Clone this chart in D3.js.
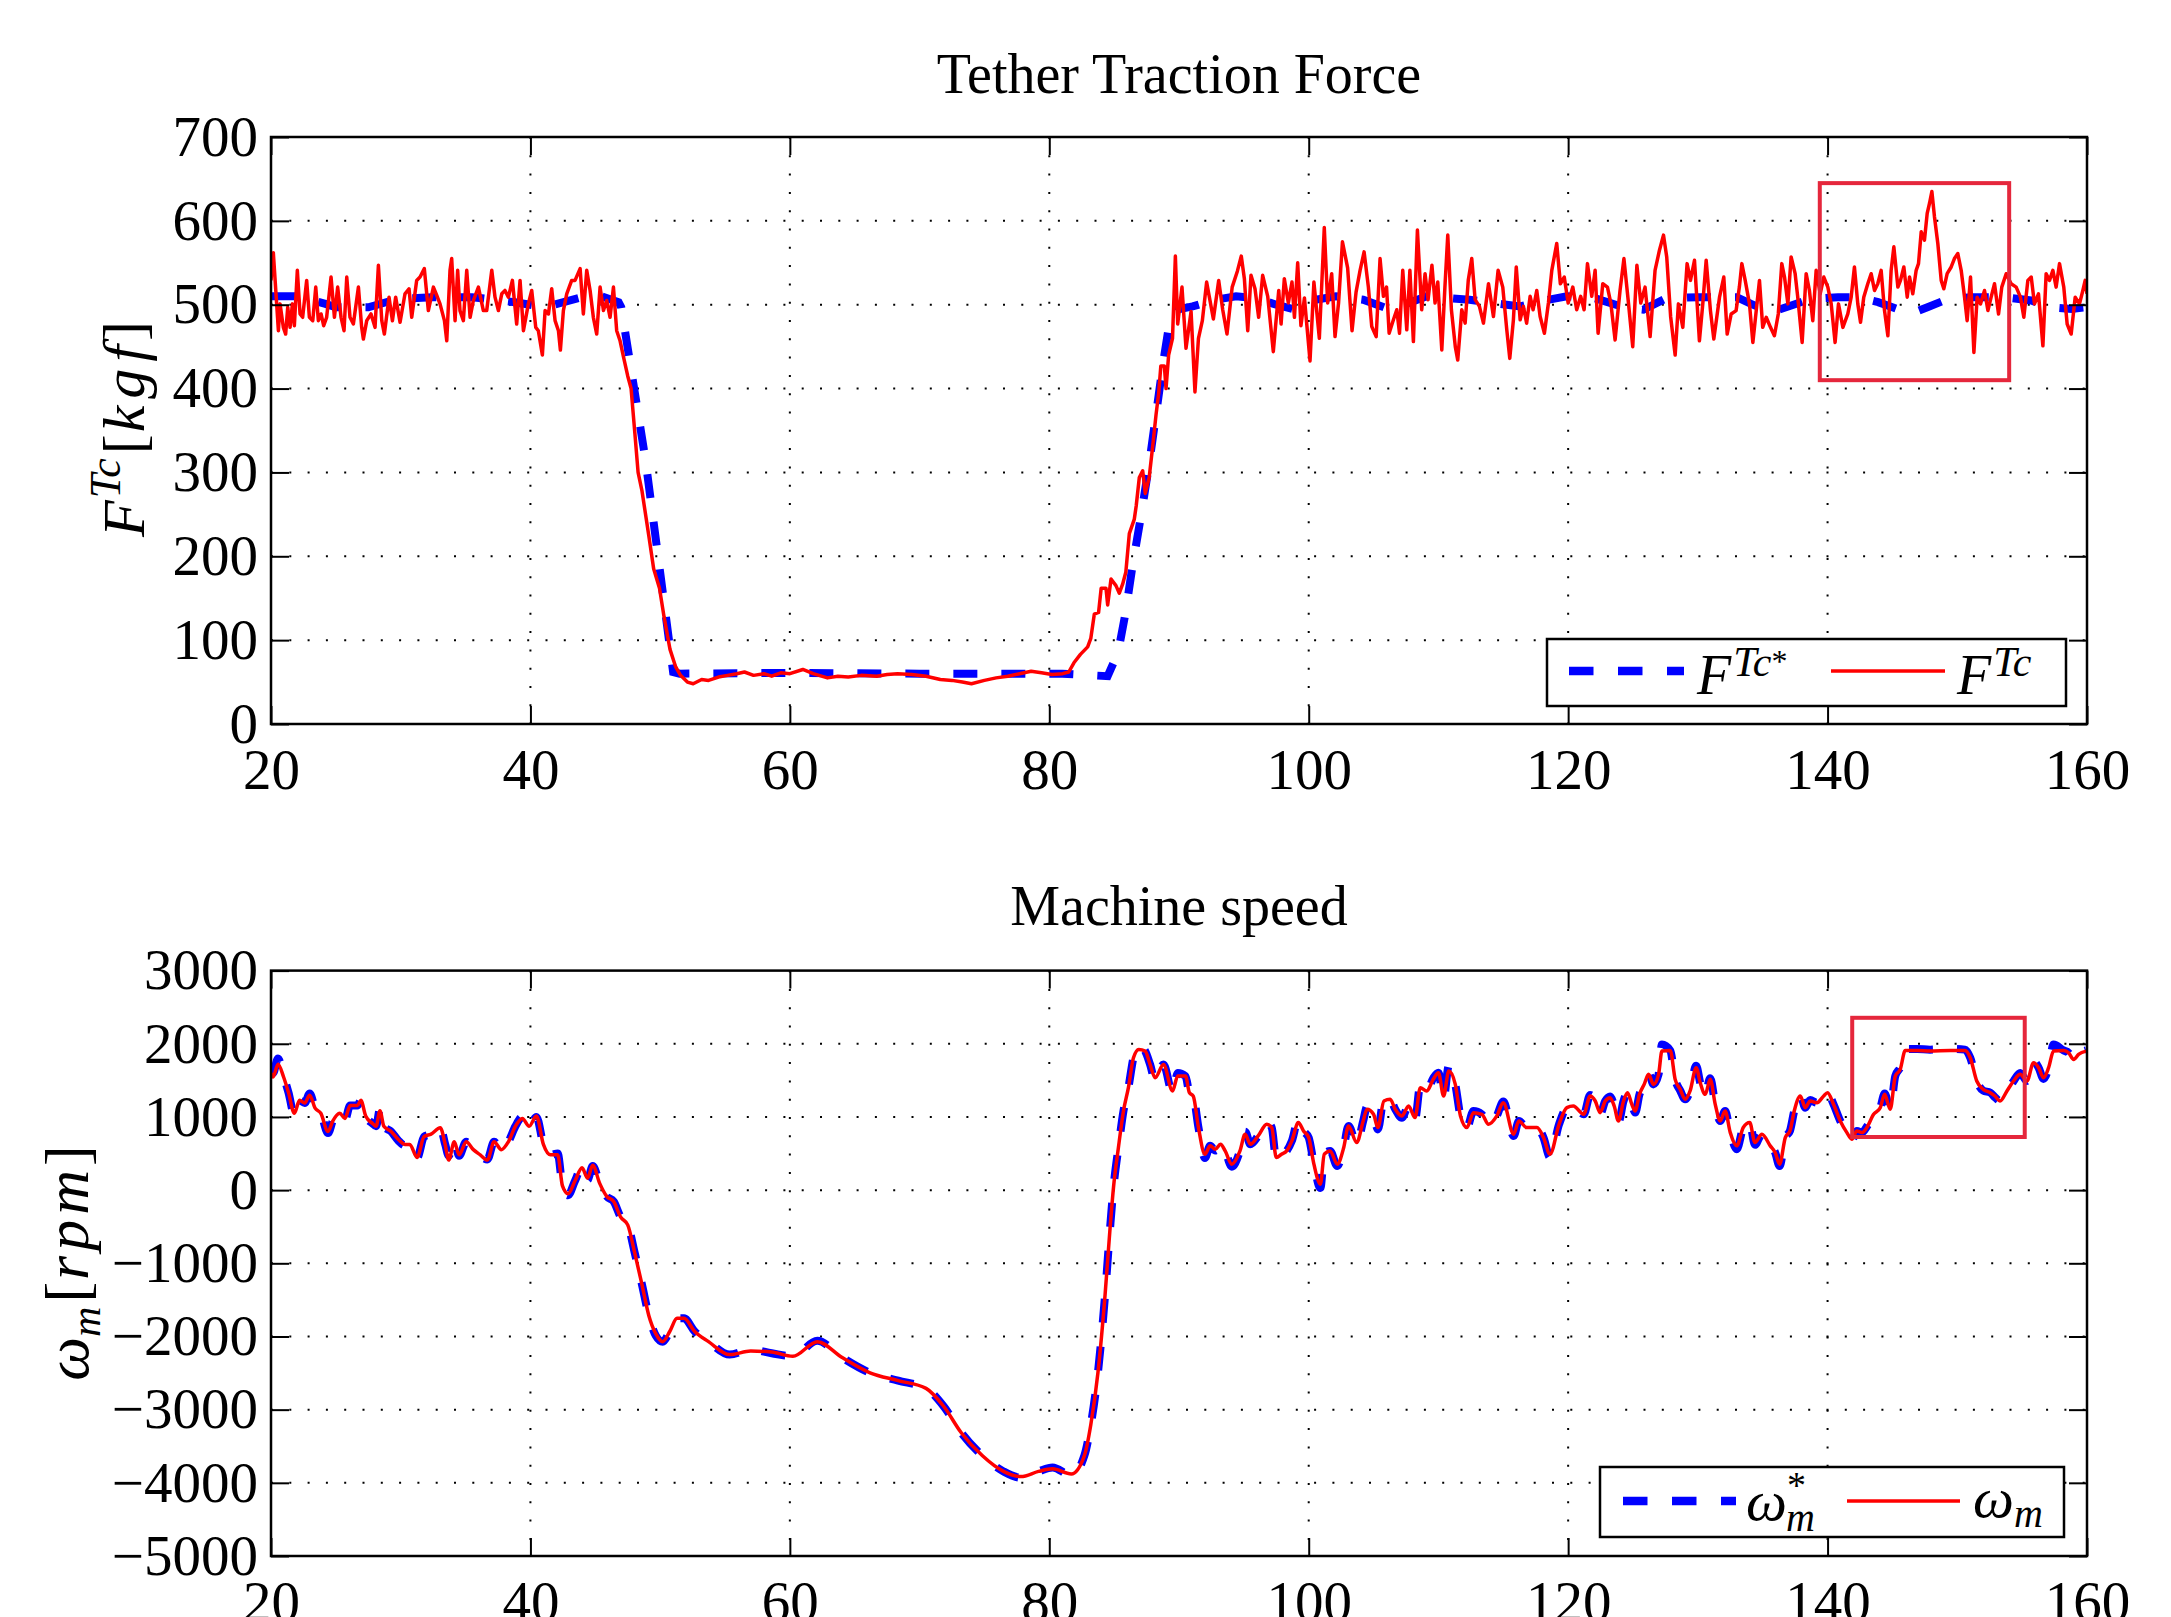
<!DOCTYPE html>
<html>
<head>
<meta charset="utf-8">
<script src="https://cdn.jsdelivr.net/npm/d3@7"></script>
<style>
  body { margin: 0; background: #fff; }
  text { font-family: "Liberation Serif", "Times New Roman", serif; }
</style>
</head>
<body>
<script>
// ---- data ----
const timeTicks = [20, 40, 60, 80, 100, 120, 140, 160];
const forceTicks = [0, 100, 200, 300, 400, 500, 600, 700];
const speedTicks = [-5000, -4000, -3000, -2000, -1000, 0, 1000, 2000, 3000];

// reference tether force F^Tc* [kgf]  (t, value)
const forceRef = [
  [20, 510], [22, 510], [24.2, 501], [25, 497], [27.5, 497], [29.8, 507], [32.4, 509], [35.5, 509],
  [38.8, 503], [41.1, 497], [44, 509], [45.5, 510], [46.8, 503], [47.0, 497], [48.87, 315], [51.0, 62],
  [51.5, 60], [60, 61], [70, 60], [81, 60], [84.5, 57], [85.3, 85], [85.86, 131], [86.43, 190],
  [87.07, 248], [87.66, 306], [88.23, 369], [88.74, 427], [89.25, 477], [89.77, 494], [91.05, 498],
  [92.85, 506], [94.4, 510], [95.9, 508], [97.5, 500], [99, 494], [100.6, 506], [102.1, 510],
  [104.2, 506], [106.3, 494], [109.1, 510], [112.4, 506], [114.2, 502], [116.3, 498], [117.8, 504],
  [119.9, 510], [122, 508], [124.5, 496], [125.8, 494], [127.6, 508], [130, 509], [133, 509],
  [134.1, 501], [135.65, 491], [137.2, 499], [138.7, 507], [140.8, 509], [142.3, 509], [143.9, 503],
  [145.7, 493], [146.7, 491], [147.7, 497], [149.3, 507], [151.1, 509], [153.6, 509], [155.7, 505],
  [157.2, 497], [158.8, 495], [160, 497]
];

// measured tether force F^Tc [kgf]
const forceMeas = [
  [20.0, 529], [20.18, 562], [20.57, 469], [20.7, 501], [20.95, 473], [21.13, 465], [21.29, 497], [21.47, 473],
  [21.65, 501], [21.8, 475], [22.03, 541], [22.24, 489], [22.44, 485], [22.75, 529], [22.96, 485], [23.22, 481],
  [23.45, 521], [23.65, 481], [23.86, 489], [24.06, 475], [24.29, 485], [24.63, 533], [24.89, 485], [25.14, 521],
  [25.4, 485], [25.63, 469], [25.84, 533], [26.09, 485], [26.35, 477], [26.74, 521], [26.99, 473], [27.12, 459],
  [27.38, 481], [27.71, 489], [28.02, 473], [28.28, 547], [28.54, 481], [28.74, 465], [29.1, 509], [29.36, 481],
  [29.61, 509], [29.95, 479], [30.33, 513], [30.64, 519], [30.85, 485], [31.23, 529], [31.49, 533], [31.82, 543],
  [32.13, 493], [32.52, 521], [32.78, 511], [33.03, 501], [33.37, 481], [33.55, 457], [33.8, 541], [33.93, 555],
  [34.19, 481], [34.39, 541], [34.57, 493], [34.83, 481], [35.09, 541], [35.35, 485], [35.6, 505], [35.99, 521],
  [36.37, 493], [36.63, 493], [37.02, 541], [37.27, 509], [37.53, 493], [37.79, 513], [38.04, 517], [38.3, 509],
  [38.61, 529], [38.94, 477], [39.2, 529], [39.46, 469], [39.84, 501], [40.1, 517], [40.41, 473], [40.61, 469],
  [40.92, 440], [41.13, 493], [41.39, 489], [41.64, 519], [41.9, 481], [42.16, 469], [42.31, 446], [42.54, 493],
  [42.8, 513], [43.18, 529], [43.44, 529], [43.83, 543], [44.08, 489], [44.34, 541], [44.6, 517], [44.85, 485],
  [45.11, 465], [45.37, 521], [45.63, 493], [45.88, 505], [46.14, 485], [46.4, 521], [46.65, 469], [46.91, 457],
  [47.17, 438], [47.5, 415], [47.76, 400], [48.06, 345], [48.3, 300], [48.6, 278], [49.14, 223], [49.5, 185],
  [49.95, 162], [50.3, 128], [50.76, 89], [51.2, 68], [51.57, 58], [52.1, 50], [52.55, 48], [53.2, 53],
  [53.73, 52], [54.5, 56], [55.2, 58], [55.9, 60], [56.5, 62], [57.2, 58], [58.0, 60], [58.6, 57],
  [59.3, 61], [60.0, 60], [61.0, 65], [61.8, 60], [62.9, 55], [63.7, 57], [64.5, 56], [65.5, 58],
  [66.7, 57], [67.5, 59], [68.3, 60], [69.4, 59], [70.5, 57], [71.6, 53], [72.5, 52], [73.3, 50],
  [74.0, 48], [75.0, 52], [75.9, 55], [76.8, 57], [77.7, 60], [78.6, 63], [79.4, 61], [80.2, 59],
  [81.03, 60], [81.5, 62], [81.9, 73], [82.4, 83], [82.96, 92], [83.2, 102], [83.47, 131], [83.8, 133],
  [84.0, 162], [84.37, 162], [84.5, 142], [84.76, 173], [85.14, 165], [85.4, 156], [85.66, 167], [85.9, 181],
  [86.17, 227], [86.55, 244], [86.7, 260], [86.94, 294], [87.2, 302], [87.4, 275], [87.7, 294], [87.97, 331],
  [88.23, 369], [88.43, 394], [88.6, 427], [88.87, 427], [89.0, 400], [89.2, 440], [89.5, 460], [89.72, 558],
  [89.9, 477], [90.23, 521], [90.54, 448], [90.93, 492], [91.23, 396], [91.5, 460], [91.8, 481], [92.13, 527],
  [92.65, 483], [93.06, 529], [93.37, 494], [93.7, 465], [94.1, 521], [94.5, 540], [94.8, 558], [95.04, 531],
  [95.3, 469], [95.55, 535], [95.86, 519], [96.14, 485], [96.45, 535], [96.84, 510], [97.27, 444], [97.69, 517],
  [97.87, 477], [98.12, 531], [98.43, 502], [98.71, 527], [98.9, 485], [99.15, 550], [99.4, 475], [99.67, 508],
  [100.1, 433], [100.4, 527], [100.82, 460], [101.2, 592], [101.46, 502], [101.77, 537], [102.03, 462], [102.3, 502],
  [102.6, 575], [103.0, 544], [103.34, 469], [103.65, 515], [103.96, 541], [104.27, 563], [104.6, 521], [104.86, 474],
  [105.2, 462], [105.5, 555], [105.76, 510], [106.0, 521], [106.2, 466], [106.53, 482], [106.79, 494], [107.0, 466],
  [107.25, 541], [107.56, 470], [107.8, 541], [108.07, 456], [108.38, 589], [108.71, 494], [108.97, 537], [109.2, 506],
  [109.5, 547], [109.74, 502], [109.95, 527], [110.26, 446], [110.5, 521], [110.72, 583], [111.0, 494], [111.3, 450],
  [111.49, 434], [111.8, 494], [112.06, 478], [112.3, 529], [112.57, 555], [112.83, 506], [113.16, 498], [113.47, 478],
  [113.86, 525], [114.24, 486], [114.6, 541], [114.96, 521], [115.27, 470], [115.5, 436], [115.78, 482], [116.0, 545],
  [116.3, 482], [116.55, 498], [116.8, 478], [117.07, 510], [117.3, 494], [117.58, 517], [117.84, 486], [118.17, 466],
  [118.48, 502], [118.74, 541], [119.12, 573], [119.4, 525], [119.7, 533], [120.0, 502], [120.36, 521], [120.66, 494],
  [120.97, 510], [121.23, 494], [121.49, 549], [121.82, 510], [122.08, 541], [122.31, 466], [122.67, 525], [123.03, 521],
  [123.29, 502], [123.62, 458], [124.0, 517], [124.3, 555], [124.65, 502], [124.98, 450], [125.3, 547], [125.6, 502],
  [125.93, 521], [126.32, 462], [126.7, 541], [127.04, 565], [127.35, 583], [127.6, 557], [127.9, 486], [128.25, 440],
  [128.5, 501], [128.84, 473], [129.17, 549], [129.43, 529], [129.74, 553], [130.12, 457], [130.38, 501], [130.64, 553],
  [130.97, 493], [131.23, 459], [131.67, 509], [132.0, 533], [132.26, 465], [132.57, 489], [132.95, 493], [133.2, 521],
  [133.39, 549], [133.65, 529], [133.98, 501], [134.24, 455], [134.5, 493], [134.75, 529], [135.0, 473], [135.27, 485],
  [135.6, 473], [135.9, 463], [136.2, 489], [136.47, 549], [136.68, 533], [136.94, 501], [137.19, 557], [137.5, 537],
  [137.7, 509], [138.04, 455], [138.35, 537], [138.6, 517], [138.86, 481], [139.12, 541], [139.43, 513], [139.71, 533],
  [140.02, 521], [140.28, 501], [140.58, 455], [140.84, 501], [141.18, 473], [141.56, 489], [141.82, 509], [142.07, 545],
  [142.33, 501], [142.54, 479], [142.79, 509], [143.1, 525], [143.36, 537], [143.62, 517], [143.87, 525], [144.13, 541],
  [144.39, 493], [144.65, 463], [144.9, 541], [145.11, 569], [145.42, 521], [145.62, 529], [145.88, 545], [146.14, 509],
  [146.32, 533], [146.57, 513], [146.83, 541], [147.01, 549], [147.22, 587], [147.47, 577], [147.68, 609], [147.86, 621],
  [148.04, 635], [148.24, 605], [148.5, 573], [148.76, 529], [148.96, 519], [149.22, 537], [149.53, 545], [149.78, 555],
  [150.04, 561], [150.3, 541], [150.56, 509], [150.76, 481], [151.02, 533], [151.28, 443], [151.53, 509], [151.79, 501],
  [152.1, 517], [152.36, 493], [152.61, 509], [152.87, 525], [153.18, 489], [153.43, 521], [153.77, 537], [154.15, 525],
  [154.54, 521], [154.87, 509], [155.13, 485], [155.44, 529], [155.7, 533], [155.95, 501], [156.26, 513], [156.6, 451],
  [156.85, 537], [157.11, 529], [157.37, 541], [157.62, 521], [157.88, 549], [158.21, 521], [158.47, 477], [158.78, 465],
  [159.09, 509], [159.42, 501], [159.68, 517], [159.86, 529], [160.0, 513]
];

// measured machine speed w_m [rpm]
const speedMeas = [
  [20.0, 1600], [20.16, 1546], [20.54, 1720], [20.97, 1546], [21.35, 1333], [21.8, 1050], [22.2, 1227], [22.6, 1191],
  [22.98, 1298], [23.4, 1120], [23.84, 1050], [24.4, 801], [24.76, 943], [25.3, 1050], [25.7, 979], [26.1, 1156],
  [26.66, 1156], [26.93, 1227], [27.3, 1014], [27.85, 908], [28.1, 872], [28.4, 1085], [28.7, 872], [29.26, 801],
  [29.8, 695], [30.34, 624], [30.7, 624], [31.26, 447], [31.8, 730], [32.34, 766], [33.05, 851], [33.43, 624],
  [33.7, 411], [34.13, 660], [34.5, 482], [35.05, 660], [35.6, 553], [36.13, 482], [36.68, 411], [37.2, 660],
  [37.76, 553], [38.3, 660], [38.84, 872], [39.38, 979], [39.9, 872], [40.46, 1014], [41.0, 624], [41.55, 482],
  [42.1, 482], [42.47, 57], [42.9, -50], [43.44, 128], [43.98, 305], [44.4, 163], [44.8, 340], [45.34, 92],
  [45.88, -85], [46.42, -156], [46.96, -369], [47.5, -475], [48.05, -865], [48.6, -1291], [49.13, -1716], [49.67, -1964],
  [50.2, -2071], [50.75, -1929], [51.3, -1752], [51.84, -1752], [52.65, -1929], [53.73, -2071], [55.36, -2248], [56.98, -2199],
  [58.6, -2213], [60.23, -2270], [62.12, -2071], [64.0, -2284], [66.18, -2496], [68.35, -2603], [70.5, -2709], [71.87, -2957],
  [73.2, -3312], [74.85, -3631], [76.47, -3844], [77.82, -3915], [79.17, -3844], [80.25, -3809], [81.7, -3879], [82.7, -3631],
  [83.2, -3206], [83.75, -2496], [84.3, -1433], [84.69, -509], [84.95, 36], [85.33, 582], [85.72, 1082], [86.1, 1400],
  [86.49, 1809], [86.9, 1923], [87.39, 1900], [87.77, 1718], [88.16, 1536], [88.8, 1718], [89.5, 1355], [89.9, 1559],
  [90.5, 1559], [90.8, 1332], [91.1, 1286], [91.5, 855], [92.0, 491], [92.4, 605], [92.8, 559], [93.2, 627],
  [93.56, 536], [94.07, 355], [94.7, 536], [95.1, 764], [95.5, 627], [96.1, 741], [96.77, 900], [97.15, 855],
  [97.5, 445], [97.9, 491], [98.3, 536], [98.7, 673], [99.2, 923], [99.6, 809], [100.0, 718], [100.4, 355],
  [100.9, 82], [101.2, 491], [101.65, 536], [102.2, 355], [102.7, 582], [103.07, 877], [103.7, 650], [104.2, 945],
  [104.5, 1105], [105.0, 1036], [105.33, 855], [105.8, 1218], [106.28, 1241], [106.67, 1105], [107.18, 1014], [107.7, 1150],
  [108.2, 991], [108.6, 1400], [109.1, 1355], [109.6, 1514], [110.0, 1605], [110.4, 1286], [110.8, 1627], [111.3, 1445],
  [111.7, 1014], [112.2, 855], [112.7, 1059], [113.35, 1036], [113.86, 900], [114.5, 1014], [115.0, 1195], [115.8, 764],
  [116.2, 945], [116.8, 855], [117.6, 855], [118.1, 718], [118.6, 491], [119.3, 900], [119.9, 1127], [120.4, 1150],
  [121.2, 1036], [121.7, 1286], [122.09, 1218], [122.47, 1059], [122.86, 1218], [123.24, 1264], [123.55, 1150], [123.88, 945],
  [124.27, 1218], [124.58, 1332], [124.91, 1173], [125.17, 1082], [125.5, 1309], [125.86, 1445], [126.2, 1582], [126.58, 1445],
  [126.97, 1582], [127.23, 1900], [127.87, 1909], [128.25, 1514], [128.64, 1377], [129.02, 1241], [129.4, 1355], [129.87, 1673],
  [130.18, 1468], [130.57, 1309], [130.95, 1514], [131.34, 1173], [131.72, 945], [132.1, 1082], [132.5, 786], [133.0, 605],
  [133.5, 855], [134.0, 923], [134.4, 650], [134.94, 764], [135.58, 605], [135.96, 514], [136.3, 355], [136.74, 718],
  [137.1, 809], [137.43, 1082], [137.9, 1286], [138.28, 1127], [138.66, 1218], [139.18, 1195], [139.7, 1286], [140.0, 1332],
  [140.46, 1173], [140.98, 945], [141.49, 786], [141.87, 695], [142.26, 809], [142.65, 786], [143.03, 855], [143.55, 1036],
  [144.06, 1127], [144.4, 1309], [144.83, 1105], [145.22, 1559], [145.6, 1650], [145.99, 1909], [146.9, 1909], [147.9, 1900],
  [149.46, 1909], [150.6, 1909], [151.0, 1809], [151.5, 1491], [152.0, 1377], [152.54, 1332], [152.9, 1286], [153.3, 1218],
  [153.83, 1355], [154.34, 1491], [154.85, 1582], [155.37, 1491], [155.88, 1741], [156.27, 1673], [156.65, 1536], [157.04, 1673],
  [157.42, 1900], [158.2, 1909], [158.58, 1877], [158.97, 1786], [159.35, 1855], [159.94, 1900]
];

// reference machine speed w_m* [rpm] (sits under the measured trace, a bit deeper at the peaks)
const speedRef = [
  [20.0, 1650], [20.16, 1600], [20.54, 1800], [20.97, 1560], [21.35, 1333], [21.8, 1030], [22.2, 1227], [22.6, 1191],
  [22.98, 1320], [23.4, 1120], [23.84, 1050], [24.4, 780], [24.76, 943], [25.3, 1050], [25.7, 960], [26.1, 1156],
  [26.66, 1156], [26.93, 1227], [27.3, 1014], [27.85, 908], [28.1, 872], [28.4, 1110], [28.7, 872], [29.26, 801],
  [29.8, 680], [30.34, 610], [30.7, 624], [31.26, 440], [31.8, 730], [32.34, 766], [33.05, 860], [33.43, 624],
  [33.7, 470], [34.13, 680], [34.5, 470], [35.05, 660], [35.6, 553], [36.13, 470], [36.68, 420], [37.2, 660],
  [37.76, 540], [38.3, 660], [38.84, 872], [39.38, 1000], [39.9, 860], [40.46, 1000], [41.0, 624], [41.55, 482],
  [42.1, 500], [42.47, 57], [42.9, -70], [43.44, 128], [43.98, 320], [44.4, 140], [44.8, 330], [45.34, 92],
  [45.88, -85], [46.42, -156], [46.96, -369], [47.5, -475], [48.05, -865], [48.6, -1291], [49.13, -1716], [49.67, -1990],
  [50.2, -2071], [50.75, -1929], [51.3, -1752], [51.84, -1752], [52.65, -1929], [53.73, -2071], [55.36, -2248], [56.98, -2180],
  [58.6, -2230], [60.23, -2270], [62.12, -2060], [64.0, -2284], [66.18, -2496], [68.35, -2603], [70.5, -2709], [71.87, -2957],
  [73.2, -3312], [74.85, -3631], [76.47, -3844], [77.82, -3930], [79.17, -3844], [80.25, -3790], [81.7, -3900], [82.7, -3631],
  [83.2, -3206], [83.75, -2496], [84.3, -1433], [84.69, -509], [84.95, 36], [85.33, 582], [85.72, 1082], [86.1, 1400],
  [86.49, 1809], [86.9, 1970], [87.39, 1900], [87.77, 1718], [88.16, 1500], [88.8, 1718], [89.5, 1330], [89.9, 1600],
  [90.5, 1559], [90.8, 1332], [91.1, 1286], [91.5, 855], [92.0, 440], [92.4, 605], [92.8, 540], [93.2, 627],
  [93.56, 536], [94.07, 320], [94.7, 536], [95.1, 800], [95.5, 627], [96.1, 741], [96.77, 930], [97.15, 855],
  [97.5, 420], [97.9, 491], [98.3, 536], [98.7, 673], [99.2, 960], [99.6, 809], [100.0, 718], [100.4, 355],
  [100.9, 30], [101.2, 491], [101.65, 536], [102.2, 330], [102.7, 582], [103.07, 877], [103.7, 630], [104.2, 945],
  [104.5, 1140], [105.0, 1036], [105.33, 830], [105.8, 1250], [106.28, 1241], [106.67, 1105], [107.18, 990], [107.7, 1150],
  [108.2, 970], [108.6, 1430], [109.1, 1355], [109.6, 1530], [110.0, 1605], [110.4, 1250], [110.8, 1700], [111.3, 1445],
  [111.7, 1014], [112.2, 855], [112.7, 1080], [113.35, 1036], [113.86, 900], [114.5, 1014], [115.0, 1210], [115.8, 740],
  [116.2, 945], [116.8, 855], [117.6, 855], [118.1, 718], [118.6, 450], [119.3, 900], [119.9, 1127], [120.4, 1150],
  [121.2, 1036], [121.7, 1300], [122.09, 1218], [122.47, 1040], [122.86, 1218], [123.24, 1280], [123.55, 1150], [123.88, 930],
  [124.27, 1218], [124.58, 1340], [124.91, 1173], [125.17, 1060], [125.5, 1309], [125.86, 1445], [126.2, 1600], [126.58, 1445],
  [126.97, 1582], [127.23, 1990], [127.87, 1909], [128.25, 1514], [128.64, 1360], [129.02, 1241], [129.4, 1355], [129.87, 1700],
  [130.18, 1468], [130.57, 1300], [130.95, 1530], [131.34, 1173], [131.72, 945], [132.1, 1082], [132.5, 786], [133.0, 560],
  [133.5, 855], [134.0, 923], [134.4, 620], [134.94, 764], [135.58, 605], [135.96, 514], [136.3, 330], [136.74, 718],
  [137.1, 809], [137.43, 1082], [137.9, 1300], [138.28, 1127], [138.66, 1230], [139.18, 1195], [139.7, 1286], [140.0, 1332],
  [140.46, 1173], [140.98, 945], [141.49, 786], [141.87, 680], [142.26, 809], [142.65, 786], [143.03, 870], [143.55, 1036],
  [144.06, 1127], [144.4, 1320], [144.83, 1105], [145.22, 1559], [145.6, 1680], [145.99, 1930], [146.9, 1930], [147.9, 1920],
  [149.46, 1930], [150.6, 1920], [151.0, 1809], [151.5, 1491], [152.0, 1360], [152.54, 1332], [152.9, 1270], [153.3, 1218],
  [153.83, 1355], [154.34, 1491], [154.85, 1600], [155.37, 1491], [155.88, 1760], [156.27, 1673], [156.65, 1520], [157.04, 1673],
  [157.42, 1990], [158.2, 1909], [158.58, 1877], [158.97, 1770], [159.35, 1855], [159.94, 1910]
];

// highlight windows [t0, t1, v0, v1]
const forceZoomBox = [139.4, 154.0, 410, 645];
const speedZoomBox = [141.9, 155.2, 726, 2355];

// ---- drawing ----
const W = 2171, H = 1617;
const left = 271, right = 2087;
const FONT = 57;

const svg = d3.select("body").append("svg")
    .attr("width", W)
    .attr("height", H)
    .style("background", "#fff");

const x = d3.scaleLinear().domain([20, 160]).range([left, right]);

function panel(id, top, bottom, yDomain, yTicks, refData, measData, box, curve) {
    let y = d3.scaleLinear().domain(yDomain).range([bottom, top]);
    let g = svg.append("g");

    g.append("clipPath").attr("id", "clip" + id)
        .append("rect")
        .attr("x", left).attr("y", top)
        .attr("width", right - left).attr("height", bottom - top);

    // dotted grid
    g.selectAll(".vgrid")
        .data(timeTicks.slice(1, -1))
        .enter().append("line")
        .attr("x1", d => x(d)).attr("x2", d => x(d))
        .attr("y1", top).attr("y2", bottom)
        .attr("stroke", "#000").attr("stroke-width", 2)
        .attr("stroke-dasharray", "2 16.3");
    g.selectAll(".hgrid")
        .data(yTicks.slice(1, -1))
        .enter().append("line")
        .attr("x1", left).attr("x2", right)
        .attr("y1", d => y(d)).attr("y2", d => y(d))
        .attr("stroke", "#000").attr("stroke-width", 2)
        .attr("stroke-dasharray", "2 16.3");

    let line = d3.line().x(d => x(d[0])).y(d => y(d[1])).curve(curve);

    let plot = g.append("g").attr("clip-path", "url(#clip" + id + ")");
    plot.append("path")
        .datum(refData)
        .attr("d", line)
        .attr("fill", "none")
        .attr("stroke", "#0000ff")
        .attr("stroke-width", 8)
        .attr("stroke-dasharray", "24 24");
    plot.append("path")
        .datum(measData)
        .attr("d", line)
        .attr("fill", "none")
        .attr("stroke", "#ff0000")
        .attr("stroke-width", 3.5)
        .attr("stroke-linejoin", "round");

    // axes, ticks pointing inwards on all four sides
    let bottomAxis = g.append("g")
        .attr("transform", "translate(0," + bottom + ")")
        .call(d3.axisBottom(x).tickValues(timeTicks).tickSize(-18).tickSizeOuter(0).tickPadding(25));
    let leftAxis = g.append("g")
        .attr("transform", "translate(" + left + ",0)")
        .call(d3.axisLeft(y).tickValues(yTicks).tickSize(-18).tickSizeOuter(0).tickPadding(13)
            .tickFormat(d3.format("d")));
    g.append("g")
        .attr("transform", "translate(0," + top + ")")
        .call(d3.axisTop(x).tickValues(timeTicks).tickSize(-18).tickSizeOuter(0).tickFormat(""));
    g.append("g")
        .attr("transform", "translate(" + right + ",0)")
        .call(d3.axisRight(y).tickValues(yTicks).tickSize(-18).tickSizeOuter(0).tickFormat(""));

    g.selectAll(".domain").remove();
    g.selectAll(".tick line").attr("stroke-width", 2);
    [bottomAxis, leftAxis].forEach(a => {
        a.attr("font-family", null).attr("font-size", null);
        a.selectAll("text")
            .style("font-family", "'Liberation Serif', 'Times New Roman', serif")
            .style("font-size", FONT + "px")
            .attr("fill", "#000");
    });

    g.append("rect")
        .attr("x", left).attr("y", top)
        .attr("width", right - left).attr("height", bottom - top)
        .attr("fill", "none").attr("stroke", "#000").attr("stroke-width", 2.5);

    // highlight window
    g.append("rect")
        .attr("x", x(box[0])).attr("y", y(box[3]))
        .attr("width", x(box[1]) - x(box[0]))
        .attr("height", y(box[2]) - y(box[3]))
        .attr("fill", "none")
        .attr("stroke", "#e5273c")
        .attr("stroke-width", 4);

    return g;
}

// --- top panel: tether traction force ---
let topG = panel("f", 137, 724, [0, 700], forceTicks, forceRef, forceMeas, forceZoomBox, d3.curveLinear);

svg.append("text")
    .attr("x", (left + right) / 2).attr("y", 93)
    .attr("text-anchor", "middle")
    .attr("font-size", 56)
    .text("Tether Traction Force");

let yl1 = svg.append("text")
    .attr("transform", "translate(144,429) rotate(-90)")
    .attr("text-anchor", "middle")
    .attr("font-size", 60)
    .attr("font-style", "italic");
yl1.append("tspan").text("F");
yl1.append("tspan").attr("dy", -24).attr("dx", 2).attr("font-size", 44).text("Tc");
yl1.append("tspan").attr("dy", 24).attr("dx", 4).attr("font-style", "normal").text("[");
yl1.append("tspan").attr("dx", 2).text("k");
yl1.append("tspan").attr("dx", 7).text("g");
yl1.append("tspan").attr("dx", 7).text("f");
yl1.append("tspan").attr("dx", 4).attr("font-style", "normal").text("]");

// legend (top)
let lg1 = svg.append("g");
lg1.append("rect")
    .attr("x", 1547).attr("y", 639).attr("width", 519).attr("height", 67)
    .attr("fill", "#fff").attr("stroke", "#000").attr("stroke-width", 2.5);
lg1.append("line")
    .attr("x1", 1569).attr("x2", 1684).attr("y1", 671).attr("y2", 671)
    .attr("stroke", "#0000ff").attr("stroke-width", 8.5).attr("stroke-dasharray", "24.5 24.5");
lg1.append("line")
    .attr("x1", 1831).attr("x2", 1945).attr("y1", 671).attr("y2", 671)
    .attr("stroke", "#ff0000").attr("stroke-width", 3.5);
let t1 = lg1.append("text").attr("x", 1697).attr("y", 694)
    .attr("font-size", 56).attr("font-style", "italic");
t1.append("tspan").text("F");
t1.append("tspan").attr("dy", -18).attr("dx", 2).attr("font-size", 42).text("Tc");
t1.append("tspan").attr("dy", -4).attr("font-size", 32).attr("font-style", "normal").text("*");
let t2 = lg1.append("text").attr("x", 1957).attr("y", 694)
    .attr("font-size", 56).attr("font-style", "italic");
t2.append("tspan").text("F");
t2.append("tspan").attr("dy", -18).attr("dx", 2).attr("font-size", 42).text("Tc");

// --- bottom panel: machine speed ---
let botG = panel("s", 970.6, 1556, [-5000, 3000], speedTicks, speedRef, speedMeas, speedZoomBox, d3.curveMonotoneX);

svg.append("text")
    .attr("x", (left + right) / 2).attr("y", 925)
    .attr("text-anchor", "middle")
    .attr("font-size", 56)
    .text("Machine speed");

let yl2 = svg.append("text")
    .attr("transform", "translate(88,1263) rotate(-90)")
    .attr("text-anchor", "middle")
    .attr("font-size", 62)
    .attr("font-style", "italic");
yl2.append("tspan").text("ω");
yl2.append("tspan").attr("dy", 12).attr("font-size", 42).text("m");
yl2.append("tspan").attr("dy", -12).attr("dx", 4).attr("font-style", "normal").text("[");
yl2.append("tspan").attr("dx", 2).text("r");
yl2.append("tspan").attr("dx", 5).text("p");
yl2.append("tspan").attr("dx", 5).text("m");
yl2.append("tspan").attr("dx", 4).attr("font-style", "normal").text("]");

// legend (bottom)
let lg2 = svg.append("g");
lg2.append("rect")
    .attr("x", 1600).attr("y", 1467).attr("width", 464).attr("height", 70)
    .attr("fill", "#fff").attr("stroke", "#000").attr("stroke-width", 2.5);
lg2.append("line")
    .attr("x1", 1623).attr("x2", 1736).attr("y1", 1501).attr("y2", 1501)
    .attr("stroke", "#0000ff").attr("stroke-width", 8.5).attr("stroke-dasharray", "24.5 24.5");
lg2.append("line")
    .attr("x1", 1847).attr("x2", 1960).attr("y1", 1501).attr("y2", 1501)
    .attr("stroke", "#ff0000").attr("stroke-width", 3.5);
let t3 = lg2.append("text").attr("x", 1746).attr("y", 1520)
    .attr("font-size", 58).attr("font-style", "italic");
t3.append("tspan").text("ω");
t3.append("tspan").attr("dy", -22).attr("font-size", 38).attr("font-style", "normal").text("*");
t3.append("tspan").attr("dx", -20).attr("dy", 33).attr("font-size", 40).text("m");
let t4 = lg2.append("text").attr("x", 1973).attr("y", 1517)
    .attr("font-size", 58).attr("font-style", "italic");
t4.append("tspan").text("ω");
t4.append("tspan").attr("dy", 10).attr("font-size", 40).text("m");
</script>
</body>
</html>
